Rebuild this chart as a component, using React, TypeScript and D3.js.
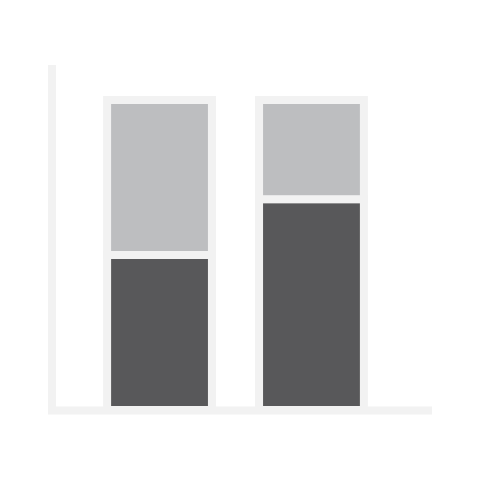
import React from "react";
import * as d3 from "d3";

const categories = ["A", "B"];
const lowerValues = [50, 68];
const upperValues = [50, 32];
const seriesColors = ["#58585a", "#bdbec0"];
const frameColor = "#f2f2f2";

const App: React.FC = () => {
  const width = 480;
  const height = 480;

  const x = d3.scaleBand<string>().domain(categories).range([60, 411]).padding(0.31);
  const y = d3.scaleLinear().domain([0, 100]).range([410, 100]);

  const rows = categories.map((c, i) => ({ cat: c, lower: lowerValues[i], upper: upperValues[i] }));
  const stacked = d3.stack<{ cat: string; lower: number; upper: number }>().keys(["lower", "upper"])(rows);

  return (
    <svg
      width={width}
      height={height}
      style={{ position: "absolute", left: 0, top: 0, background: "#fff" }}
    >
      {/* axes */}
      <line x1={52} y1={65} x2={52} y2={414} stroke={frameColor} strokeWidth={8} />
      <line x1={48} y1={410.5} x2={432} y2={410.5} stroke={frameColor} strokeWidth={8} />
      {stacked.map((layer, li) => (
        <g key={layer.key}>
          {layer.map((d, i) => (
            <rect
              key={categories[i]}
              x={x(categories[i])}
              y={y(d[1])}
              width={x.bandwidth()}
              height={y(d[0]) - y(d[1])}
              fill={seriesColors[li]}
              stroke={frameColor}
              strokeWidth={8}
            />
          ))}
        </g>
      ))}
    </svg>
  );
};

export default App;
